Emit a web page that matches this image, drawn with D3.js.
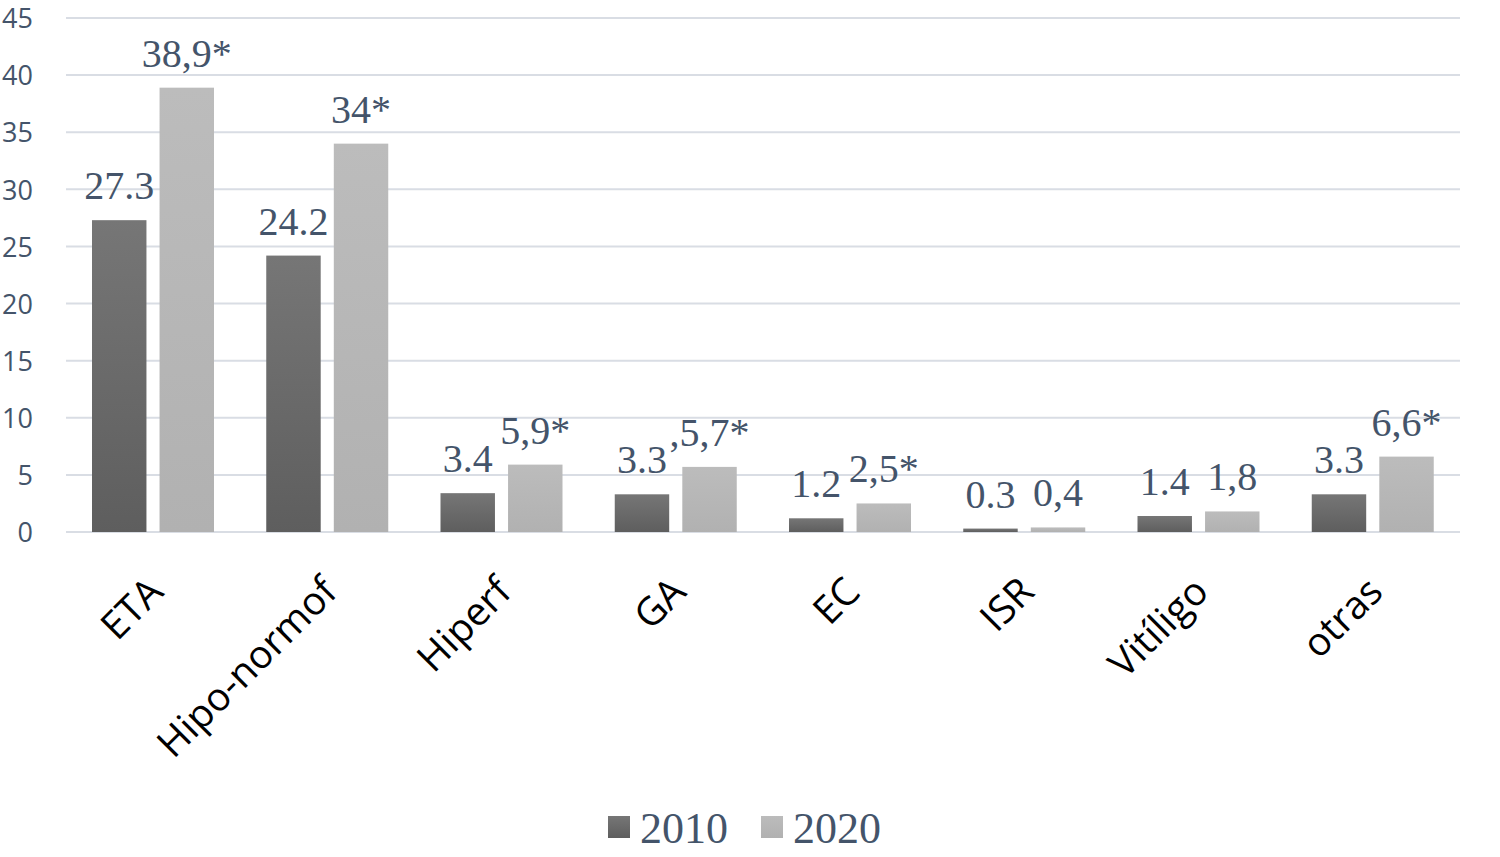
<!DOCTYPE html>
<html>
<head>
<meta charset="utf-8">
<script src="https://cdn.jsdelivr.net/npm/d3@7"></script>
<style>
  body { margin: 0; background: #fff; }
  svg { display: block; }
</style>
</head>
<body>
<div id="chart"></div>
<script>
// chart data
const categories = ["ETA", "Hipo-normof", "Hiperf", "GA", "EC", "ISR", "Vitíligo", "otras"];
const years = ["2010", "2020"];
const values2010 = [27.3, 24.2, 3.4, 3.3, 1.2, 0.3, 1.4, 3.3];
const values2020 = [38.9, 34, 5.9, 5.7, 2.5, 0.4, 1.8, 6.6];
const labels2010 = ["27.3", "24.2", "3.4", "3.3", "1.2", "0.3", "1.4", "3.3"];
const labels2020 = ["38,9*", "34*", "5,9*", ",5,7*", "2,5*", "0,4", "1,8", "6,6*"];
const yTicks = [0, 5, 10, 15, 20, 25, 30, 35, 40, 45];

const width = 1500, height = 857;
const textColor = "#44546a";

const svg = d3.select("#chart").append("svg")
    .attr("width", width)
    .attr("height", height);

// bar gradients
const defs = svg.append("defs");
const fills = { "2010": ["#767676", "#5e5e5e"], "2020": ["#bcbcbc", "#b1b1b1"] };
years.forEach(yr => {
    const g = defs.append("linearGradient")
        .attr("id", "grad" + yr)
        .attr("x1", 0).attr("y1", 0).attr("x2", 0).attr("y2", 1);
    g.append("stop").attr("offset", "0%").attr("stop-color", fills[yr][0]);
    g.append("stop").attr("offset", "100%").attr("stop-color", fills[yr][1]);
});

const x0 = d3.scaleBand().domain(categories).range([66, 1460]).padding(0);
const x1 = d3.scaleBand().domain(years).range([26, 148]).paddingInner(0.194).paddingOuter(0);
const y = d3.scaleLinear().domain([0, 45]).range([532, 18]);

// gridlines
svg.append("g")
    .selectAll("line")
    .data(yTicks)
    .join("line")
    .attr("x1", 66).attr("x2", 1460)
    .attr("y1", d => y(d)).attr("y2", d => y(d))
    .attr("stroke", "#d9dde4")
    .attr("stroke-width", 2);

// y axis labels
const yAxis = d3.axisLeft(y).tickValues(yTicks).tickSize(0).tickPadding(0);
const yg = svg.append("g").attr("transform", "translate(33,0)").call(yAxis);
yg.select(".domain").remove();
yg.selectAll("text")
    .attr("fill", textColor)
    .attr("font-family", "'Open Sans', sans-serif")
    .attr("font-size", 27)
    .attr("dy", "0.36em");

const rows = categories.map((c, i) => ({
    cat: c,
    items: [
        { year: "2010", value: values2010[i], label: labels2010[i] },
        { year: "2020", value: values2020[i], label: labels2020[i] }
    ]
}));

const groups = svg.append("g")
    .selectAll("g")
    .data(rows)
    .join("g")
    .attr("transform", d => `translate(${x0(d.cat)},0)`);

groups.selectAll("rect")
    .data(d => d.items)
    .join("rect")
    .attr("x", d => x1(d.year))
    .attr("width", x1.bandwidth())
    .attr("y", d => y(d.value))
    .attr("height", d => y(0) - y(d.value))
    .attr("fill", d => `url(#grad${d.year})`);

groups.selectAll("text")
    .data(d => d.items)
    .join("text")
    .attr("x", d => x1(d.year) + x1.bandwidth() / 2)
    .attr("y", d => y(d.value) - 21)
    .attr("text-anchor", "middle")
    .attr("fill", textColor)
    .attr("font-family", "'Liberation Serif', 'Times New Roman', serif")
    .attr("font-size", 40)
    .text(d => d.label);

// category labels, rotated
svg.append("g")
    .selectAll("text")
    .data(categories)
    .join("text")
    .attr("transform", d => `translate(${x0(d) + x0.bandwidth() / 2 + 12},594) rotate(-45)`)
    .attr("text-anchor", "end")
    .attr("fill", "#000")
    .attr("font-family", "'Open Sans', sans-serif")
    .attr("font-size", 39)
    .text(d => d);

// legend
const legend = svg.append("g")
    .selectAll("g")
    .data(years)
    .join("g")
    .attr("transform", (d, i) => `translate(${608 + i * 153},816)`);

legend.append("rect")
    .attr("width", 22).attr("height", 22)
    .attr("fill", d => `url(#grad${d})`);

legend.append("text")
    .attr("x", 32).attr("y", 27)
    .attr("fill", textColor)
    .attr("font-family", "'Liberation Serif', 'Times New Roman', serif")
    .attr("font-size", 44)
    .text(d => d);
</script>
</body>
</html>
